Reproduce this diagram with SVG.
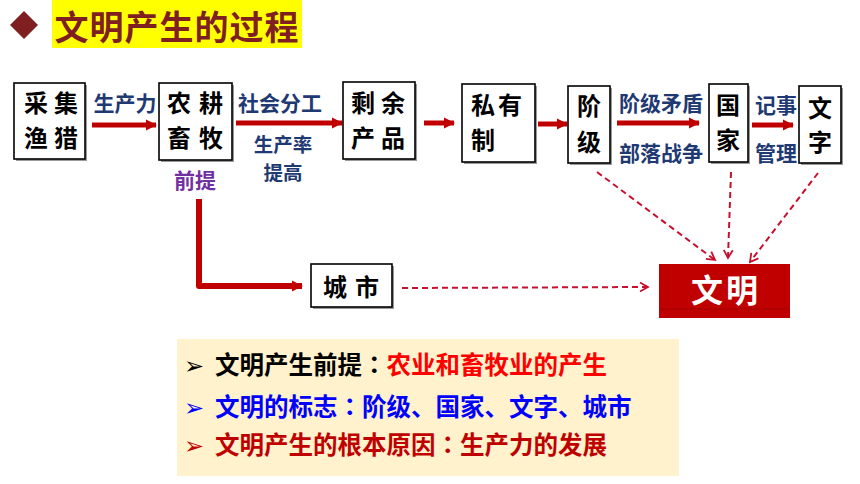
<svg xmlns="http://www.w3.org/2000/svg" width="860" height="484" viewBox="0 0 860 484">
<defs>
<marker id="solidHead" markerUnits="userSpaceOnUse" markerWidth="14" markerHeight="14" refX="10" refY="7" orient="auto">
<path d="M0,1.5 L11,7 L0,12.5 Z" fill="#C00000"/>
</marker>
<marker id="openHead" markerUnits="userSpaceOnUse" markerWidth="12" markerHeight="12" refX="9" refY="6" orient="auto">
<path d="M1,1.5 L9,6 L1,10.5" fill="none" stroke="#C8102E" stroke-width="1.8"/>
</marker>
<style>
.box{fill:#FFFFFF;stroke:#000000;stroke-width:1.6}
.shadow{fill:#9A9A9A}
.bt{font-family:"Noto Sans CJK SC","Noto Sans CJK TC",sans-serif;font-size:24px;font-weight:700;fill:#000000;text-anchor:middle}
.lbl{font-family:"Noto Sans CJK SC","Noto Sans CJK TC",sans-serif;font-size:21px;font-weight:700;fill:#1F3A72;text-anchor:middle}
.solid{fill:none;stroke:#C00000;stroke-width:5;marker-end:url(#solidHead)}
.dash{fill:none;stroke:#C8102E;stroke-width:2;stroke-dasharray:6 4;marker-end:url(#openHead)}
.note{font-family:"Noto Sans CJK SC","Noto Sans CJK TC",sans-serif;font-size:24.5px;font-weight:700}
.colon{font-family:"Noto Sans CJK TC","Noto Sans CJK SC",sans-serif}
.bul{font-family:"DejaVu Sans",sans-serif;font-size:24px}
</style>
</defs>

<g id="title">
<polygon points="24,11 38,25 24,39 10,25" fill="#7F1F22"/>
<rect x="52" y="0" width="250" height="48" fill="#FFFF00"/>
<text x="177" y="40" text-anchor="middle" font-family="'Noto Sans CJK SC','Noto Sans CJK TC',sans-serif" font-size="34" font-weight="700" fill="#7F1F22" letter-spacing="1">文明产生的过程</text>
</g>

<g id="connectors">
<line class="solid" x1="92" y1="125" x2="156" y2="125"/>
<line class="solid" x1="236" y1="123" x2="342" y2="123"/>
<line class="solid" x1="424" y1="123" x2="454" y2="123"/>
<line class="solid" x1="538" y1="124" x2="567" y2="124"/>
<line class="solid" x1="617" y1="123" x2="699" y2="123"/>
<line class="solid" x1="752" y1="125" x2="793" y2="125"/>
<path d="M199,199 L199,286 L302,286" fill="none" stroke="#C00000" stroke-width="6" stroke-linejoin="round" marker-end="url(#solidHead)"/>
<line class="dash" x1="402" y1="288" x2="648" y2="287"/>
<line class="dash" x1="597" y1="172" x2="715" y2="260"/>
<line class="dash" x1="731" y1="172" x2="728" y2="258"/>
<line class="dash" x1="818" y1="173" x2="750" y2="262"/>
</g>

<g id="labels">
<text class="lbl" x="125" y="111">生产力</text>
<text class="lbl" x="280" y="111">社会分工</text>
<text class="lbl" x="283" y="152" style="font-size:19.5px">生产率</text>
<text class="lbl" x="283" y="180" style="font-size:19.5px">提高</text>
<text class="lbl" x="195" y="188" style="fill:#7030A0">前提</text>
<text class="lbl" x="661" y="111">阶级矛盾</text>
<text class="lbl" x="661" y="161">部落战争</text>
<text class="lbl" x="776" y="113">记事</text>
<text class="lbl" x="776" y="161">管理</text>
</g>

<g id="node-caiji">
<rect class="shadow" x="16" y="85" width="71" height="76"/>
<rect class="box" x="14" y="83" width="71" height="76"/>
<text class="bt" x="36 66" y="112">采集</text>
<text class="bt" x="36 66" y="147">渔猎</text>
</g>

<g id="node-nonggeng">
<rect class="shadow" x="161" y="85" width="73" height="77"/>
<rect class="box" x="159" y="83" width="73" height="77"/>
<text class="bt" x="179 211" y="112">农耕</text>
<text class="bt" x="179 211" y="147">畜牧</text>
</g>

<g id="node-shengyu">
<rect class="shadow" x="345" y="84" width="72" height="77"/>
<rect class="box" x="343" y="82" width="72" height="77"/>
<text class="bt" x="363 393" y="112">剩余</text>
<text class="bt" x="363 393" y="147">产品</text>
</g>

<g id="node-siyouzhi">
<rect class="shadow" x="464" y="86" width="73" height="78"/>
<rect class="box" x="462" y="84" width="73" height="78"/>
<text class="bt" x="483 510" y="114">私有</text>
<text class="bt" x="483" y="149">制</text>
</g>

<g id="node-jieji">
<rect class="shadow" x="570" y="88" width="42" height="77"/>
<rect class="box" x="568" y="86" width="42" height="77"/>
<text class="bt" x="589" y="115">阶</text>
<text class="bt" x="589" y="151">级</text>
</g>

<g id="node-guojia">
<rect class="shadow" x="711" y="86" width="39" height="78"/>
<rect class="box" x="709" y="84" width="39" height="78"/>
<text class="bt" x="728" y="114">国</text>
<text class="bt" x="728" y="149">家</text>
</g>

<g id="node-wenzi">
<rect class="shadow" x="801" y="88" width="42" height="77"/>
<rect class="box" x="799" y="86" width="42" height="77"/>
<text class="bt" x="820" y="117">文</text>
<text class="bt" x="820" y="151">字</text>
</g>

<g id="node-chengshi">
<rect class="shadow" x="313" y="266" width="81" height="43"/>
<rect class="box" x="311" y="264" width="81" height="43"/>
<text class="bt" x="335 367" y="296">城市</text>
</g>

<g id="node-wenming">
<rect x="659" y="264" width="131" height="54" fill="#C00000"/>
<line x1="659" y1="309" x2="790" y2="309" stroke="#A00000" stroke-width="1"/>
<text class="bt" x="707 742" y="302" style="fill:#FFFFFF;font-size:32px">文明</text>
</g>

<g id="summary">
<rect x="177" y="339" width="502" height="137" fill="#FFF2CC"/>
<text class="bul" x="184" y="374" fill="#000000">➢</text>
<text class="note" x="215" y="374"><tspan fill="#000000">文明产生前提</tspan><tspan class="colon" fill="#000000">：</tspan><tspan fill="#FF0000">农业和畜牧业的产生</tspan></text>
<text class="bul" x="184" y="416" fill="#0000FF">➢</text>
<text class="note" x="215" y="416" fill="#0000FF">文明的标志<tspan class="colon">：</tspan>阶级、国家、文字、城市</text>
<text class="bul" x="184" y="454" fill="#C00000">➢</text>
<text class="note" x="215" y="454" fill="#C00000">文明产生的根本原因<tspan class="colon">：</tspan>生产力的发展</text>
</g>
</svg>
